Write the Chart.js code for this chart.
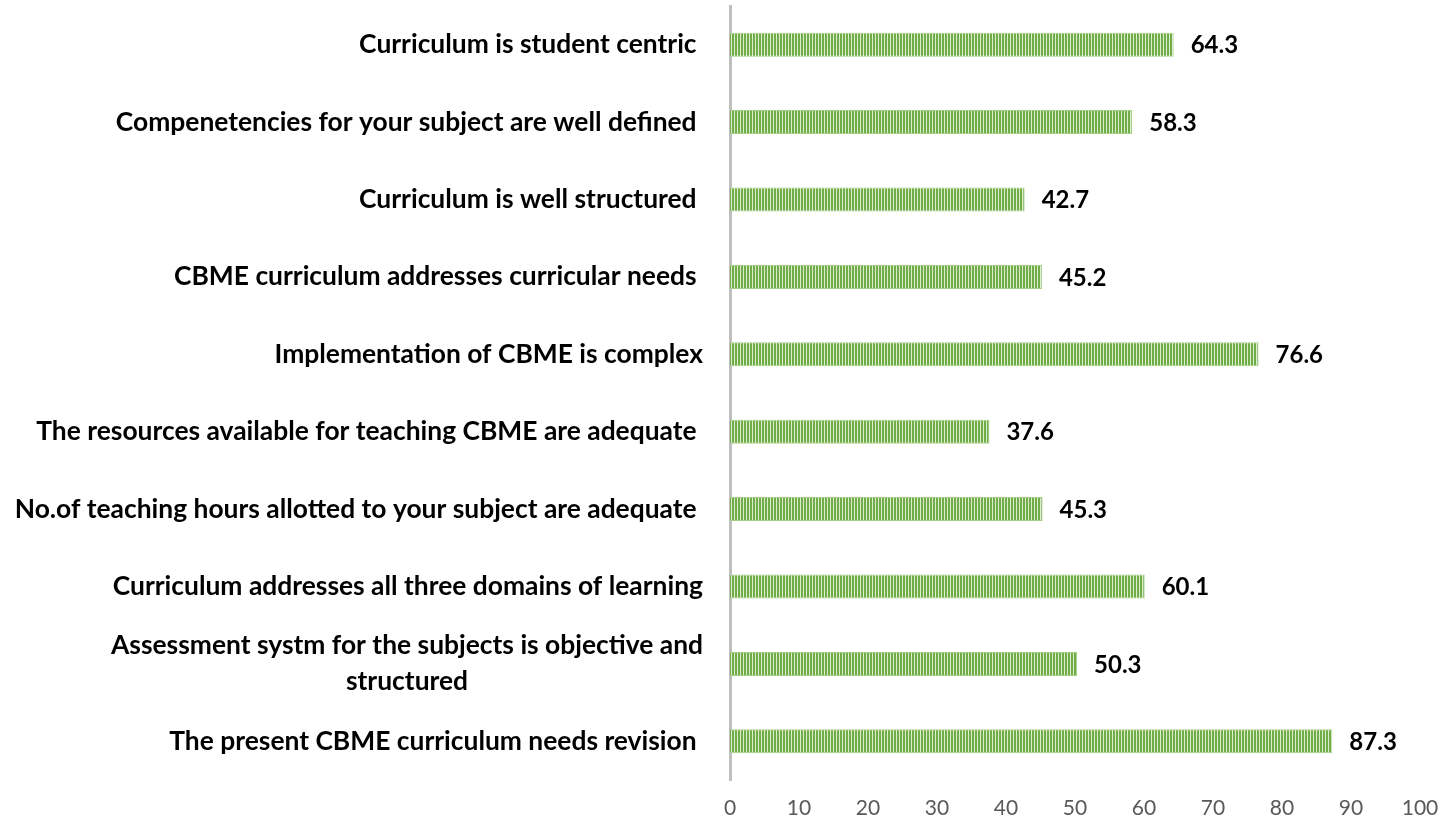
<!DOCTYPE html>
<html>
<head>
<meta charset="utf-8">
<script src="https://cdn.jsdelivr.net/npm/chart.js@4"></script>
<style>
html, body { margin: 0; padding: 0; background: #fff; }
#wrap { width: 1447px; height: 822px; }
</style>
</head>
<body>
<div id="wrap"><canvas id="myChart"></canvas></div>
<script>
// statements, top to bottom (trailing spaces kept as in the original sheet)
var labels = [
    'Curriculum is student centric ',
    'Compenetencies for your subject are well defined ',
    'Curriculum is well structured ',
    'CBME curriculum addresses curricular needs ',
    'Implementation of CBME is complex',
    'The resources available for teaching CBME are adequate ',
    'No.of teaching hours allotted to your subject are adequate ',
    'Curriculum addresses all three domains of learning',
    ['Assessment systm for the subjects is objective and', 'structured'],
    'The present CBME curriculum needs revision '
];
var values = [64.3, 58.3, 42.7, 45.2, 76.6, 37.6, 45.3, 60.1, 50.3, 87.3];
var xMin = 0, xMax = 100, xStep = 10;

var labelFont = 'bold 26.4px Lato';
var valueFont = 'bold 24px Lato';

//striped fill like the excel pattern
function stripes() {
    var c = document.createElement('canvas');
    c.width = 3; c.height = 4;
    var g = c.getContext('2d');
    g.fillStyle = '#DCEDD1';
    g.fillRect(0, 0, 3, 4);
    g.fillStyle = '#70AD47';
    g.fillRect(0, 0, 2, 4);
    return g.createPattern(c, 'repeat');
}

//draw the category labels ourselves so wrapped lines can be centred
var catLabels = {
    id: 'catLabels',
    afterDraw: function(chart) {
        var ctx = chart.ctx;
        var y = chart.scales.y;
        var right = chart.chartArea.left - 27;
        ctx.save();
        ctx.font = labelFont;
        ctx.fillStyle = '#000';
        ctx.textBaseline = 'middle';
        labels.forEach(function(l, i) {
            var cy = y.getPixelForValue(i);
            if (Array.isArray(l)) {
                var w = Math.max.apply(null, l.map(function(s) { return ctx.measureText(s).width; }));
                var lh = 36;
                ctx.textAlign = 'center';
                l.forEach(function(s, k) {
                    ctx.fillText(s, right - w / 2, cy + (k - (l.length - 1) / 2) * lh);
                });
            } else {
                ctx.textAlign = 'right';
                ctx.fillText(l, right, cy);
            }
        });
        ctx.restore();
    }
};

//value at the end of each bar
var barValues = {
    id: 'barValues',
    afterDatasetsDraw: function(chart) {
        var ctx = chart.ctx;
        ctx.save();
        ctx.font = valueFont;
        ctx.fillStyle = '#000';
        ctx.textAlign = 'left';
        ctx.textBaseline = 'middle';
        chart.getDatasetMeta(0).data.forEach(function(bar, i) {
            ctx.fillText(values[i].toFixed(1), bar.x + 17, bar.y + 1);
        });
        ctx.restore();
    }
};

var ctx = document.getElementById('myChart').getContext('2d');
var myChart = new Chart(ctx, {
    type: 'bar',
    data: {
        labels: labels,
        datasets: [{
            data: values,
            backgroundColor: stripes(),
            borderColor: '#A3CF86',
            borderWidth: 1,
            borderSkipped: 'start',
            categoryPercentage: 1,
            barPercentage: 0.31
        }]
    },
    options: {
        indexAxis: 'y',
        responsive: true,
        maintainAspectRatio: false,
        animation: false,
        layout: { padding: { top: 6, right: 27, bottom: 0, left: 0 } },
        plugins: {
            legend: { display: false },
            tooltip: { enabled: false }
        },
        scales: {
            x: {
                min: xMin,
                max: xMax,
                grid: { display: false, drawTicks: false },
                border: { display: false },
                ticks: {
                    stepSize: xStep,
                    padding: 16,
                    color: '#595959',
                    font: { family: 'Lato', size: 21 }
                },
                afterFit: function(scale) {
                    scale.height = 42;
                    scale.paddingLeft = 0;
                    scale.paddingRight = 0;
                }
            },
            y: {
                grid: { display: false, drawTicks: false },
                border: { display: true, color: '#BFBFBF', width: 3 },
                ticks: { display: false },
                afterFit: function(scale) { scale.width = 730; }
            }
        }
    },
    plugins: [catLabels, barValues]
});
</script>
</body>
</html>
